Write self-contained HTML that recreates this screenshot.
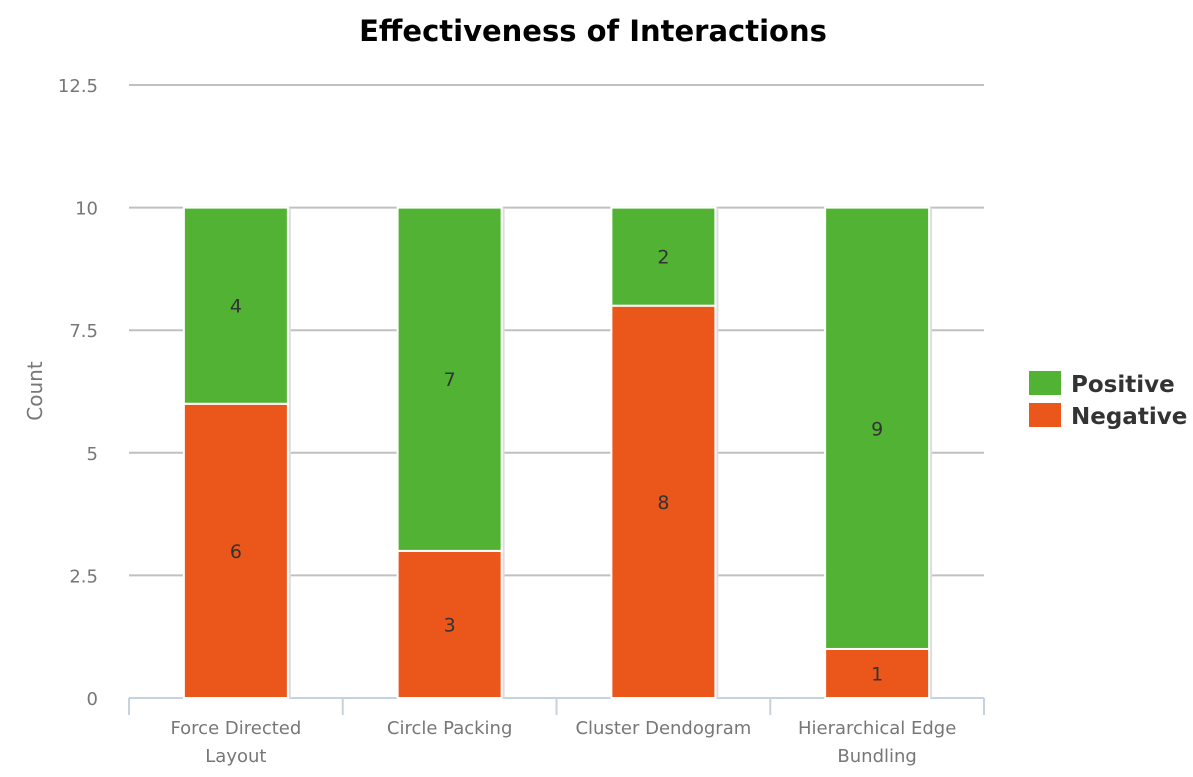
<!DOCTYPE html>
<html><head><meta charset="utf-8"><style>
body{margin:0;background:#fff;font-family:"Liberation Sans",sans-serif}
svg text{font-family:"DejaVu Sans","Liberation Sans",sans-serif}
</style></head><body>
<svg width="1193" height="772">
<text x="593" y="41" text-anchor="middle" font-size="29" font-weight="bold" fill="#000">Effectiveness of Interactions</text>
<text transform="translate(42,391) rotate(-90)" text-anchor="middle" font-size="20" fill="#777">Count</text>
<g id="grid"></g><g id="bars"></g>
<g>
<rect x="1029" y="371" width="32" height="24" fill="#52b234"/>
<text x="1071" y="392" font-size="23" font-weight="bold" fill="#333">Positive</text>
<rect x="1029" y="403" width="32" height="24" fill="#eb561b"/>
<text x="1071" y="424" font-size="23" font-weight="bold" fill="#333">Negative</text>
</g>
</svg>
<script>
const categories=[["Force Directed","Layout"],["Circle Packing"],["Cluster Dendogram"],["Hierarchical Edge","Bundling"]];
const negative=[6,3,8,1];
const positive=[4,7,2,9];
const ticks=[0,2.5,5,7.5,10,12.5];
const tickLabels=["0","2.5","5","7.5","10","12.5"];
const NS="http://www.w3.org/2000/svg";
const x0=129,x1=984,yBase=698,yTop=85,yMax=12.5;
const y=v=>yBase-(v/yMax)*(yBase-yTop);
const bw=(x1-x0)/categories.length;
function mk(t,a,p){const e=document.createElementNS(NS,t);for(const k in a)e.setAttribute(k,a[k]);p.appendChild(e);return e;}
const g=document.getElementById('grid'),b=document.getElementById('bars');
ticks.forEach((t,i)=>{
 if(t>0){const l=mk('line',{x1:x0,x2:x1,y1:y(t),y2:y(t),stroke:'#c0c0c0','stroke-width':2},g);
 
 }
 const tx=mk('text',{x:98,y:y(t)+7,'text-anchor':'end','font-size':18,fill:'#777'},g);tx.textContent=tickLabels[i];
 
 
});
const ax=mk('line',{x1:x0,x2:x1,y1:yBase,y2:yBase,stroke:'#c5d3e0','stroke-width':2},g);


for(let i=0;i<=categories.length;i++){const tk=mk('line',{x1:x0+i*bw,x2:x0+i*bw,y1:yBase,y2:yBase+17,stroke:'#c5d3e0','stroke-width':2},g);
 
 }
categories.forEach((c,i)=>{
 const cx=x0+bw*(i+0.5),w=104,left=cx-w/2;
 const segs=[[0,negative[i],'#eb561b','negative'],[negative[i],negative[i]+positive[i],'#52b234','positive']];
 const tot=negative[i]+positive[i];
 const sh=mk('rect',{x:left+3,y:y(tot),width:w,height:yBase-y(tot),fill:'#ddd'},b);
 
 
 segs.forEach(s=>{
  const r=mk('rect',{x:left,y:y(s[1]),width:w,height:y(s[0])-y(s[1]),fill:s[2],stroke:'#fff','stroke-width':2},b);
  
  
  const t=mk('text',{x:cx,y:(y(s[0])+y(s[1]))/2+7,'text-anchor':'middle','font-size':19,fill:'#333'},b);
  t.textContent=s[1]-s[0];
  
  
 });
 c.forEach((ln,j)=>{
  const t=mk('text',{x:cx,y:734+j*28,'text-anchor':'middle','font-size':18,fill:'#777'},b);t.textContent=ln;
  
  
 });
});
</script>
</body></html>
